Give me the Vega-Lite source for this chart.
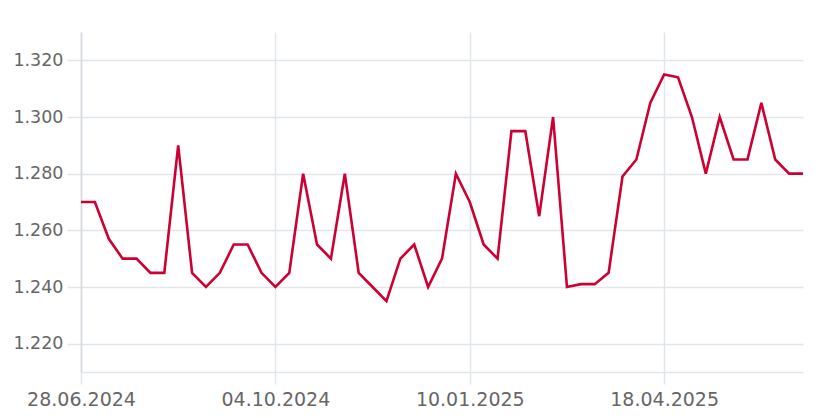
{
  "$schema": "https://vega.github.io/schema/vega-lite/v6.json",
  "width": 722,
  "height": 340,
  "padding": {"left": 81, "top": 32, "right": 19, "bottom": 46},
  "autosize": {"type": "none"},
  "background": "white",
  "config": {
    "view": {"stroke": null},
    "font": "DejaVu Sans"
  },
  "data": {
    "values": [
      {"date": "2024-06-28", "price": 1.270},
      {"date": "2024-07-05", "price": 1.270},
      {"date": "2024-07-12", "price": 1.257},
      {"date": "2024-07-19", "price": 1.250},
      {"date": "2024-07-26", "price": 1.250},
      {"date": "2024-08-02", "price": 1.245},
      {"date": "2024-08-09", "price": 1.245},
      {"date": "2024-08-16", "price": 1.290},
      {"date": "2024-08-23", "price": 1.245},
      {"date": "2024-08-30", "price": 1.240},
      {"date": "2024-09-06", "price": 1.245},
      {"date": "2024-09-13", "price": 1.255},
      {"date": "2024-09-20", "price": 1.255},
      {"date": "2024-09-27", "price": 1.245},
      {"date": "2024-10-04", "price": 1.240},
      {"date": "2024-10-11", "price": 1.245},
      {"date": "2024-10-18", "price": 1.280},
      {"date": "2024-10-25", "price": 1.255},
      {"date": "2024-11-01", "price": 1.250},
      {"date": "2024-11-08", "price": 1.280},
      {"date": "2024-11-15", "price": 1.245},
      {"date": "2024-11-22", "price": 1.240},
      {"date": "2024-11-29", "price": 1.235},
      {"date": "2024-12-06", "price": 1.250},
      {"date": "2024-12-13", "price": 1.255},
      {"date": "2024-12-20", "price": 1.240},
      {"date": "2024-12-27", "price": 1.250},
      {"date": "2025-01-03", "price": 1.280},
      {"date": "2025-01-10", "price": 1.270},
      {"date": "2025-01-17", "price": 1.255},
      {"date": "2025-01-24", "price": 1.250},
      {"date": "2025-01-31", "price": 1.295},
      {"date": "2025-02-07", "price": 1.295},
      {"date": "2025-02-14", "price": 1.265},
      {"date": "2025-02-21", "price": 1.300},
      {"date": "2025-02-28", "price": 1.240},
      {"date": "2025-03-07", "price": 1.241},
      {"date": "2025-03-14", "price": 1.241},
      {"date": "2025-03-21", "price": 1.245},
      {"date": "2025-03-28", "price": 1.279},
      {"date": "2025-04-04", "price": 1.285},
      {"date": "2025-04-11", "price": 1.305},
      {"date": "2025-04-18", "price": 1.315},
      {"date": "2025-04-25", "price": 1.314},
      {"date": "2025-05-02", "price": 1.300},
      {"date": "2025-05-09", "price": 1.280},
      {"date": "2025-05-16", "price": 1.300},
      {"date": "2025-05-23", "price": 1.285},
      {"date": "2025-05-30", "price": 1.285},
      {"date": "2025-06-06", "price": 1.305},
      {"date": "2025-06-13", "price": 1.285},
      {"date": "2025-06-20", "price": 1.280},
      {"date": "2025-06-27", "price": 1.280}
    ]
  },
  "mark": {"type": "line", "color": "#cc0033", "strokeWidth": 2.6, "strokeJoin": "miter", "clip": true},
  "encoding": {
    "x": {
      "field": "date",
      "type": "temporal",
      "title": null,
      "scale": {
        "type": "utc",
        "domain": [
          {"year": 2024, "month": 6, "date": 28, "utc": true},
          {"year": 2025, "month": 6, "date": 27, "utc": true}
        ]
      },
      "axis": {
        "values": [
          {"year": 2024, "month": 6, "date": 28, "utc": true},
          {"year": 2024, "month": 10, "date": 4, "utc": true},
          {"year": 2025, "month": 1, "date": 10, "utc": true},
          {"year": 2025, "month": 4, "date": 18, "utc": true}
        ],
        "format": "%d.%m.%Y",
        "grid": true,
        "gridColor": "#e3e6e9",
        "gridWidth": 1.5,
        "domainColor": "#e3e6e9",
        "domainWidth": 1.5,
        "tickColor": "#e3e6e9",
        "tickWidth": 1.5,
        "tickSize": 12,
        "labelPadding": 6,
        "labelFontSize": 19,
        "labelColor": "#666666",
        "labelFont": "DejaVu Sans",
        "labelFlush": false
      }
    },
    "y": {
      "field": "price",
      "type": "quantitative",
      "title": null,
      "scale": {"domain": [1.21, 1.33], "nice": false, "zero": false},
      "axis": {
        "values": [1.22, 1.24, 1.26, 1.28, 1.30, 1.32],
        "format": ".3f",
        "grid": true,
        "gridColor": "#e3e6e9",
        "gridWidth": 1.5,
        "domainColor": "#d5d9dd",
        "domainWidth": 1.5,
        "ticks": true,
        "tickColor": "#e3e6e9",
        "tickWidth": 1.5,
        "tickSize": 14,
        "labelPadding": 4,
        "labelFontSize": 17.5,
        "labelColor": "#666666",
        "labelFont": "DejaVu Sans"
      }
    }
  }
}
